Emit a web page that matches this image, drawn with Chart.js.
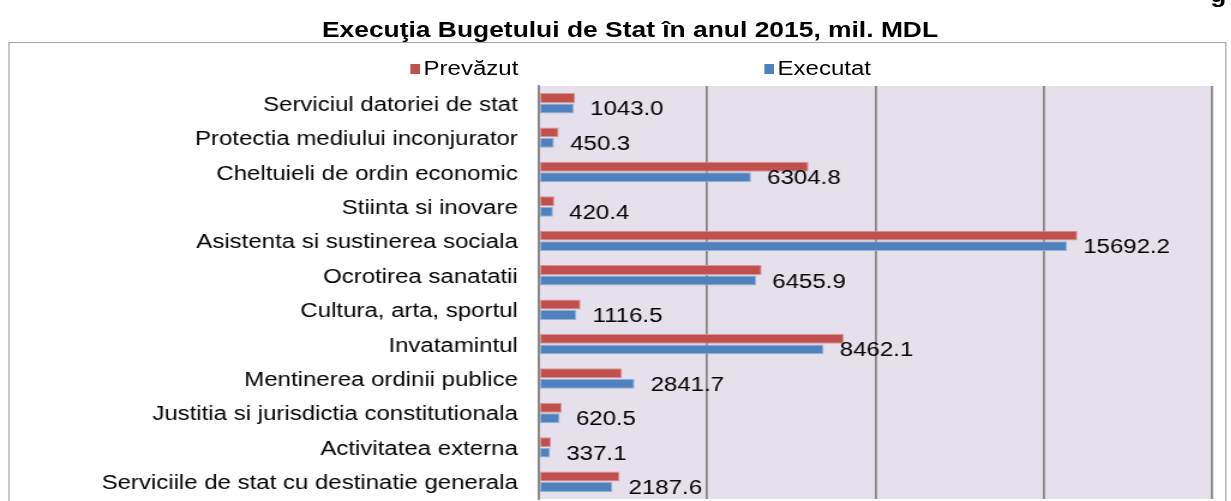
<!DOCTYPE html>
<html>
<head>
<meta charset="utf-8">
<script src="https://cdn.jsdelivr.net/npm/chart.js@4.4.1/dist/chart.umd.min.js"></script>
<style>
    html, body { margin: 0; padding: 0; background: #fff; overflow: hidden; }
    body { width: 1231px; height: 501px; position: relative; font-family: 'Liberation Sans', Arial, sans-serif; }
    /* the source picture is stretched ~1.2x horizontally, so draw narrow and stretch */
    .stage { position: absolute; left: 0; top: 0; width: 1026px; height: 501px; transform: scaleX(1.2); transform-origin: 0 0; }
    .frame { position: absolute; left: 6.7px; top: 42px; width: 1013px; height: 480px; border: 1.5px solid #a6a6a6; }
    .title { position: absolute; left: 0; top: 18px; width: 1050px; text-align: center; font-weight: bold; font-size: 22px; line-height: 24px; color: #000; }
    .corner { position: absolute; right: 4px; top: -17px; font-weight: bold; font-size: 22px; line-height: 24px; }
    .legend-item { position: absolute; top: 56px; font-size: 20px; line-height: 24px; color: #000; white-space: nowrap; }
    .legend-box { display: inline-block; width: 8.5px; height: 10px; margin-right: 3px; vertical-align: 1px; }
    #budgetChart { position: absolute; left: 0; top: 0; }
</style>
</head>
<body>
<div class="stage">
    <div class="corner">g</div>
    <div class="title">Execuţia Bugetului de Stat în anul 2015, mil. MDL</div>
    <div class="frame"></div>
    <div id="legend"></div>
    <canvas id="budgetChart" width="1026" height="501"></canvas>
</div>
<script>
var categories = [
    'Serviciul datoriei de stat',
    'Protectia mediului inconjurator',
    'Cheltuieli de ordin economic',
    'Stiinta si inovare',
    'Asistenta si sustinerea sociala',
    'Ocrotirea sanatatii',
    'Cultura, arta, sportul',
    'Invatamintul',
    'Mentinerea ordinii publice',
    'Justitia si jurisdictia constitutionala',
    'Activitatea externa',
    'Serviciile de stat cu destinatie generala'
];
var seriesNames = ['Prevăzut', 'Executat'];
var prevazut = [1080, 590, 8010, 460, 16000, 6620, 1240, 9060, 2470, 680, 360, 2400];
var executat = [1043.0, 450.3, 6304.8, 420.4, 15692.2, 6455.9, 1116.5, 8462.1, 2841.7, 620.5, 337.1, 2187.6];
var axisMax = 20000;
var axisStep = 5000;

(function() {
    var red = '#C0504D';
    var blue = '#4F81BD';
    var legendLeft = [341.5, 636.5];
    var legendColors = [red, blue];

    var legend = document.getElementById('legend');
    legend.innerHTML = seriesNames.map(function(name, i) {
        return '<span class="legend-item" style="left:' + legendLeft[i] + 'px"><span class="legend-box" style="background:' + legendColors[i] + '"></span>' + name + '</span>';
    }).join('');

    var plotBg = {
        id: 'plotBg',
        beforeDraw: function(chart) {
            var a = chart.chartArea;
            var ctx = chart.ctx;
            ctx.save();
            ctx.fillStyle = '#E6E0EC';
            ctx.fillRect(a.left, a.top, a.right - a.left, a.bottom - a.top);
            ctx.restore();
        }
    };

    var valueLabels = {
        id: 'valueLabels',
        afterDatasetsDraw: function(chart) {
            var ctx = chart.ctx;
            var meta = chart.getDatasetMeta(1);
            ctx.save();
            ctx.font = '20px "Liberation Sans", Arial, sans-serif';
            ctx.fillStyle = '#000';
            ctx.textBaseline = 'middle';
            ctx.textAlign = 'left';
            meta.data.forEach(function(bar, i) {
                ctx.fillText(executat[i].toFixed(1), bar.x + 13.5, bar.y + 1.5);
            });
            ctx.restore();
        }
    };

    new Chart(document.getElementById('budgetChart'), {
        type: 'bar',
        data: {
            labels: categories,
            datasets: [
                { label: seriesNames[0], data: prevazut, backgroundColor: red, borderColor: '#D99694', borderWidth: 1, borderSkipped: false, categoryPercentage: 0.61, barPercentage: 0.94 },
                { label: seriesNames[1], data: executat, backgroundColor: blue, borderColor: '#95B3D7', borderWidth: 1, borderSkipped: false, categoryPercentage: 0.61, barPercentage: 0.94 }
            ]
        },
        options: {
            indexAxis: 'y',
            responsive: false,
            animation: false,
            layout: { padding: { left: 0, top: 86, right: 16, bottom: 2 } },
            plugins: {
                legend: { display: false },
                tooltip: { enabled: false }
            },
            scales: {
                x: {
                    min: 0,
                    max: axisMax,
                    ticks: { display: false, stepSize: axisStep },
                    grid: { color: '#878787', lineWidth: 1.8, drawTicks: false },
                    border: { display: false },
                    afterFit: function(scale) { scale.height = 0; }
                },
                y: {
                    ticks: { color: '#000', font: { family: 'Liberation Sans', size: 20 }, padding: 17.5, labelOffset: 2 },
                    grid: { display: false, drawTicks: false },
                    border: { display: true, color: '#878787', width: 1.8 },
                    afterFit: function(scale) {
                        scale.width = 449;
                        scale.paddingTop = 0;
                        scale.paddingBottom = 0;
                    }
                }
            }
        },
        plugins: [plotBg, valueLabels]
    });
})();
</script>
</body>
</html>
